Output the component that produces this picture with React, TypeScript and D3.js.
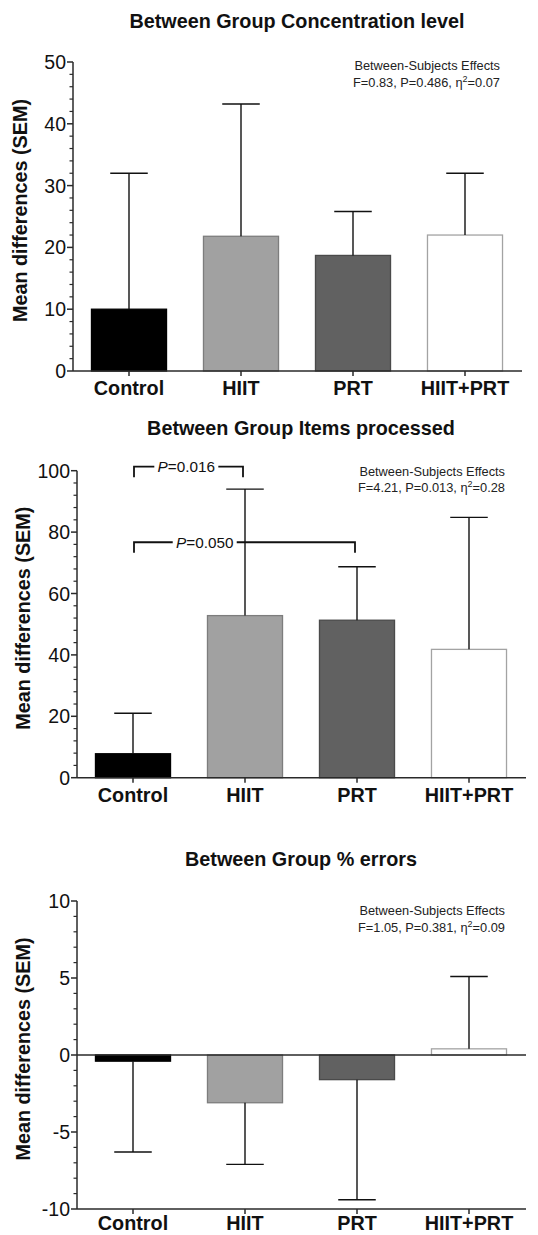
import React from 'react';
import * as d3 from 'd3';

const groups = ['Control', 'HIIT', 'PRT', 'HIIT+PRT'];
const barFills = ['#000000', '#a1a1a1', '#616161', '#ffffff'];
const barStrokes = ['#000000', '#7d7d7d', '#4a4a4a', '#a3a3a3'];

const concTitle = 'Between Group Concentration level';
const concMeans = [10.0, 21.8, 18.7, 22.0];
const concSEM = [22.0, 21.4, 7.1, 10.0];
const concTicks = [0, 10, 20, 30, 40, 50];
const concMinorStep = 2;
const concStats = ['0.83', '0.486', '0.07'];

const itemsTitle = 'Between Group Items processed';
const itemsMeans = [7.8, 52.8, 51.3, 41.8];
const itemsSEM = [13.2, 41.2, 17.4, 43.0];
const itemsTicks = [0, 20, 40, 60, 80, 100];
const itemsMinorStep = 4;
const itemsStats = ['4.21', '0.013', '0.28'];
const itemsBrackets = [
  { from: 'Control', to: 'HIIT', y: 101.3, p: '0.016', labelPos: 0.48 },
  { from: 'Control', to: 'PRT', y: 76.7, p: '0.050', labelPos: 0.32 },
];

const errTitle = 'Between Group % errors';
const errMeans = [-0.4, -3.1, -1.6, 0.4];
const errSEM = [5.9, 4.0, 7.8, 4.7];
const errTicks = [-10, -5, 0, 5, 10];
const errMinorStep = 1;
const errStats = ['1.05', '0.381', '0.09'];

const yLabel = 'Mean differences (SEM)';
const FONT = '"Liberation Sans", Arial, Helvetica, sans-serif';

type Bracket = { from: string; to: string; y: number; p: string; labelPos: number };

type PanelProps = {
  title: string;
  means: number[];
  sems: number[];
  ticks: number[];
  minorStep: number;
  stats: string[];
  brackets: Bracket[];
  layout: {
    x0: number; x1: number; yTop: number; yBottom: number; titleY: number;
    statsRight: number; statsY: number; xLabelY: number; yLabelX: number;
  };
};

function Panel({ title, means, sems, ticks, minorStep, stats, brackets, layout }: PanelProps) {
  const { x0, x1, yTop, yBottom, titleY, statsRight, statsY, xLabelY, yLabelX } = layout;
  const x = d3.scaleBand<string>().domain(groups).range([x0, x1]).paddingInner(0.33).paddingOuter(0.165);
  const yMin = d3.min(ticks) as number;
  const yMax = d3.max(ticks) as number;
  const y = d3.scaleLinear().domain([yMin, yMax]).range([yBottom, yTop]);
  const minor = d3.range(yMin, yMax + 1e-9, minorStep).filter((v) => !ticks.some((t) => Math.abs(t - v) < 1e-9));
  const bw = x.bandwidth();
  const cx = (g: string) => (x(g) as number) + bw / 2;
  const axisColor = '#2a2a2a';

  return (
    <g fontFamily={FONT}>
      <text x={(x0 + x1) / 2} y={titleY} textAnchor="middle" fontWeight="bold" fontSize={19.8} fill="#111">
        {title}
      </text>
      {groups.map((g, i) => {
        const m = means[i];
        const top = y(Math.max(0, m));
        const bot = y(Math.min(0, m));
        return (
          <rect key={g} x={x(g)} y={top} width={bw} height={bot - top}
            fill={barFills[i]} stroke={barStrokes[i]} strokeWidth={1.3} />
        );
      })}
      {groups.map((g, i) => {
        const m = means[i];
        const end = m >= 0 ? m + sems[i] : m - sems[i];
        const c = cx(g);
        return (
          <g key={g} stroke="#111" strokeWidth={1.4}>
            <line x1={c} x2={c} y1={y(m)} y2={y(end)} />
            <line x1={c - bw / 4} x2={c + bw / 4} y1={y(end)} y2={y(end)} />
          </g>
        );
      })}
      <line x1={x0} x2={x0} y1={yTop} y2={yBottom} stroke={axisColor} strokeWidth={1.5} />
      {ticks.map((t) => (
        <g key={t}>
          <line x1={x0 - 6} x2={x0} y1={y(t)} y2={y(t)} stroke={axisColor} strokeWidth={1.5} />
          <text x={x0 - 7} y={y(t)} dy="0.36em" textAnchor="end" fontSize={19.5} fill="#111">
            {t}
          </text>
        </g>
      ))}
      {minor.map((t) => (
        <line key={t} x1={x0 - 3.5} x2={x0} y1={y(t)} y2={y(t)} stroke={axisColor} strokeWidth={1.2} />
      ))}
      <line x1={x0} x2={x1 + 1} y1={y(0)} y2={y(0)} stroke={axisColor} strokeWidth={1.5} />
      {yMin < 0 && (
        <line x1={x0} x2={x1 + 1} y1={yBottom} y2={yBottom} stroke={axisColor} strokeWidth={1.5} />
      )}
      {groups.map((g) => (
        <line key={g} x1={cx(g)} x2={cx(g)} y1={yBottom} y2={yBottom + 5} stroke={axisColor} strokeWidth={1.5} />
      ))}
      {groups.map((g) => (
        <text key={g} x={cx(g)} y={xLabelY} textAnchor="middle" fontWeight="bold" fontSize={19.8} fill="#111">
          {g}
        </text>
      ))}
      <text transform={`translate(${yLabelX},${(yTop + yBottom) / 2 - 6}) rotate(-90)`} textAnchor="middle"
        fontWeight="bold" fontSize={19.8} fill="#111">
        {yLabel}
      </text>
      <text x={statsRight} y={statsY} textAnchor="end" fontSize={12.8} fill="#222">Between-Subjects Effects</text>
      <text x={statsRight} y={statsY + 16.5} textAnchor="end" fontSize={12.8} fill="#222">
        <tspan>{`F=${stats[0]}, P=${stats[1]}, η`}</tspan>
        <tspan dy={-5} fontSize={9}>2</tspan>
        <tspan dy={5}>{`=${stats[2]}`}</tspan>
      </text>
      {brackets.map((b, i) => {
        const xa = cx(b.from) + 1;
        const xb = cx(b.to) - 2;
        const yy = y(b.y);
        const drop = 10.5;
        const lx = xa + (xb - xa) * b.labelPos;
        const tw = 60;
        return (
          <g key={i}>
            <path d={`M${xa},${yy + drop}V${yy}H${xb}V${yy + drop}`} fill="none" stroke="#111" strokeWidth={1.8} />
            <rect x={lx - tw / 2 - 2} y={yy - 8} width={tw + 4} height={16} fill="#fff" />
            <text x={lx} y={yy + 5.3} textAnchor="middle" fontSize={15.3} fill="#111">
              <tspan fontStyle="italic">P</tspan>
              <tspan>{`=${b.p}`}</tspan>
            </text>
          </g>
        );
      })}
    </g>
  );
}

export default function App() {
  return (
    <svg width={538} height={1235} style={{ position: 'absolute', left: 0, top: 0, background: '#fff' }}>
      <rect width={538} height={1235} fill="#fff" />
      <Panel title={concTitle} means={concMeans} sems={concSEM} ticks={concTicks} minorStep={concMinorStep}
        stats={concStats} brackets={[]}
        layout={{ x0: 73, x1: 521, yTop: 62, yBottom: 371, titleY: 28, statsRight: 500, statsY: 70, xLabelY: 395, yLabelX: 27 }} />
      <Panel title={itemsTitle} means={itemsMeans} sems={itemsSEM} ticks={itemsTicks} minorStep={itemsMinorStep}
        stats={itemsStats} brackets={itemsBrackets}
        layout={{ x0: 77, x1: 525, yTop: 470.7, yBottom: 777.7, titleY: 435, statsRight: 505, statsY: 475.7, xLabelY: 802, yLabelX: 30 }} />
      <Panel title={errTitle} means={errMeans} sems={errSEM} ticks={errTicks} minorStep={errMinorStep}
        stats={errStats} brackets={[]}
        layout={{ x0: 77, x1: 525, yTop: 901, yBottom: 1209, titleY: 866, statsRight: 505, statsY: 915, xLabelY: 1230, yLabelX: 30 }} />
    </svg>
  );
}
